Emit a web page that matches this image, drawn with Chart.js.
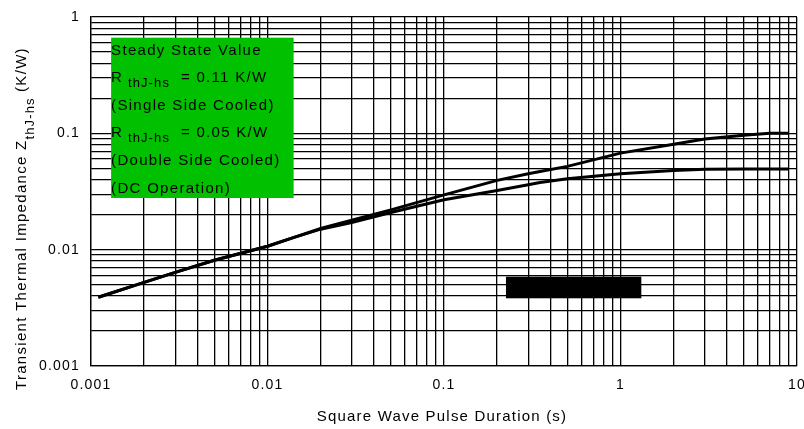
<!DOCTYPE html>
<html>
<head>
<meta charset="utf-8">
<script src="https://cdn.jsdelivr.net/npm/chart.js@4.4.1/dist/chart.umd.min.js"></script>
<style>
  html, body { margin: 0; padding: 0; background: #fff; }
  #wrap { width: 804px; height: 429px; }
</style>
</head>
<body>
<div id="wrap"><canvas id="c" width="804" height="429"></canvas></div>
<script>
// Transient thermal impedance Zth(J-hs) versus square wave pulse duration
const pulseSingle = [0.0011, 0.002, 0.003, 0.005, 0.01, 0.014, 0.02, 0.03, 0.05, 0.1, 0.2, 0.3, 0.35, 0.5, 1, 2, 3, 5, 7, 9];
const zthSingle   = [0.0039, 0.00524, 0.00638, 0.0081, 0.0107, 0.0127, 0.0152, 0.0179, 0.022, 0.0296, 0.0394, 0.0449, 0.047, 0.052, 0.0676, 0.0807, 0.0892, 0.0964, 0.1, 0.1];

const pulseDouble = [0.0011, 0.002, 0.003, 0.005, 0.01, 0.014, 0.02, 0.03, 0.05, 0.1, 0.2, 0.3, 0.35, 0.5, 1, 2, 3, 5, 9];
const zthDouble   = [0.0039, 0.00524, 0.00638, 0.0081, 0.0107, 0.0127, 0.0150, 0.0171, 0.0209, 0.0269, 0.0323, 0.0361, 0.0378, 0.0407, 0.0449, 0.048, 0.049, 0.0493, 0.0493];

// decade tick labels
const xTickValues = [0.001, 0.01, 0.1, 1, 10];
const xTickLabels = ['0.001', '0.01', '0.1', '1', '10'];
const yTickValues = [0.001, 0.01, 0.1, 1];
const yTickLabels = ['0.001', '0.01', '0.1', '1'];

// note box and filled bar, in data units
const noteBoxX = [0.0013, 0.01406];
const noteBoxY = [0.664, 0.0278];
const blackBarX = [0.2244, 1.312];
const blackBarY = [0.00586, 0.00382];

const noteLines = [
  [{ t: 'Steady State Value' }],
  [{ t: 'R' }, { t: ' thJ-hs', sub: true }, { t: '  = 0.11 K/W' }],
  [{ t: '(Single Side Cooled)' }],
  [{ t: 'R' }, { t: ' thJ-hs', sub: true }, { t: '  = 0.05 K/W' }],
  [{ t: '(Double Side Cooled)' }],
  [{ t: '(DC Operation)' }]
];

const FONT = '"Liberation Sans", Arial, sans-serif';

// full 1-2-...-9 log grid per decade
function logGrid(decades, last) {
  const out = [];
  decades.forEach(d => { for (let m = 1; m <= 9; m++) out.push(m * d); });
  out.push(last);
  return out;
}
const xGrid = logGrid([0.001, 0.01, 0.1, 1], 10);
const yGrid = logGrid([0.001, 0.01, 0.1], 1);

function labelFor(v, values, labels) {
  const i = values.findIndex(t => Math.abs(Math.log10(t) - Math.log10(v)) < 1e-9);
  return i >= 0 ? labels[i] : '';
}

function drawRuns(ctx, runs, x, y, size, subSize, subDrop, spacing) {
  let cx = x;
  runs.forEach(r => {
    const s = r.sub ? subSize : size;
    ctx.font = s + 'px ' + FONT;
    ctx.letterSpacing = (r.sub ? spacing * 0.85 : spacing) + 'px';
    ctx.fillText(r.t, cx, y + (r.sub ? subDrop : 0));
    cx += ctx.measureText(r.t).width;
  });
}

const decorPlugin = {
  id: 'decor',
  beforeLayout(chart) { chart.ctx.letterSpacing = '1.2px'; },
  beforeDraw(chart) { chart.ctx.letterSpacing = '1.2px'; },
  beforeDatasetsDraw(chart) {
    const { ctx, scales: { x, y } } = chart;
    ctx.save();
    // note box
    const bx0 = x.getPixelForValue(noteBoxX[0]), bx1 = x.getPixelForValue(noteBoxX[1]);
    const by0 = y.getPixelForValue(noteBoxY[0]), by1 = y.getPixelForValue(noteBoxY[1]);
    ctx.fillStyle = '#00c000';
    ctx.fillRect(bx0, by0, bx1 - bx0, by1 - by0);
    ctx.fillStyle = '#000';
    ctx.textBaseline = 'alphabetic';
    ctx.textAlign = 'left';
    noteLines.forEach((runs, i) => {
      drawRuns(ctx, runs, bx0, by0 + 17 + i * 27.6, 15, 13, 5, 1.3);
    });
    // filled bar
    const kx0 = x.getPixelForValue(blackBarX[0]), kx1 = x.getPixelForValue(blackBarX[1]);
    const ky0 = y.getPixelForValue(blackBarY[0]), ky1 = y.getPixelForValue(blackBarY[1]);
    ctx.fillStyle = '#000';
    ctx.fillRect(kx0, ky0, kx1 - kx0, ky1 - ky0);
    ctx.restore();
  },
  afterDraw(chart) {
    const { ctx, chartArea } = chart;
    ctx.save();
    ctx.fillStyle = '#000';
    ctx.textBaseline = 'alphabetic';
    // x axis title
    ctx.font = '15px ' + FONT;
    ctx.letterSpacing = '1.2px';
    ctx.textAlign = 'center';
    ctx.fillText('Square Wave Pulse Duration (s)', (chartArea.left + chartArea.right) / 2 - 2, 421);
    // y axis title, rotated
    ctx.textAlign = 'left';
    ctx.translate(26, 390);
    ctx.rotate(-Math.PI / 2);
    drawRuns(ctx, [
      { t: 'Transient Thermal Impedance Z' },
      { t: 'thJ-hs', sub: true },
      { t: ' (K/W)' }
    ], 0, 0, 15, 13, 8, 1.3);
    ctx.restore();
  }
};

const axisFont = { family: FONT, size: 14 };

new Chart(document.getElementById('c').getContext('2d'), {
  type: 'line',
  data: {
    datasets: [
      {
        label: 'Single Side Cooled',
        data: pulseSingle.map((v, i) => ({ x: v, y: zthSingle[i] })),
        borderColor: '#000', borderWidth: 3, pointRadius: 0, tension: 0, fill: false
      },
      {
        label: 'Double Side Cooled',
        data: pulseDouble.map((v, i) => ({ x: v, y: zthDouble[i] })),
        borderColor: '#000', borderWidth: 3, pointRadius: 0, tension: 0, fill: false
      }
    ]
  },
  options: {
    responsive: false,
    animation: false,
    events: [],
    layout: { padding: { left: 0, top: 17, right: 7, bottom: 0 } },
    plugins: { legend: { display: false }, tooltip: { enabled: false } },
    scales: {
      x: {
        type: 'logarithmic',
        min: 0.001, max: 10,
        afterBuildTicks: s => { s.ticks = xGrid.map(v => ({ value: v })); },
        afterFit: s => { s.height = 63; s.paddingLeft = 0; s.paddingRight = 0; },
        ticks: {
          autoSkip: false, maxRotation: 0, minRotation: 0, padding: 11,
          color: '#000', font: axisFont,
          callback: v => labelFor(v, xTickValues, xTickLabels)
        },
        grid: { color: '#000', lineWidth: 1.3, drawTicks: false },
        border: { color: '#000', width: 1.3 }
      },
      y: {
        type: 'logarithmic',
        min: 0.001, max: 1,
        afterBuildTicks: s => { s.ticks = yGrid.map(v => ({ value: v })); },
        afterFit: s => { s.width = 91; s.paddingTop = 0; s.paddingBottom = 0; },
        ticks: {
          autoSkip: false, padding: 11,
          color: '#000', font: axisFont,
          callback: v => labelFor(v, yTickValues, yTickLabels)
        },
        grid: { color: '#000', lineWidth: 1.3, drawTicks: false },
        border: { color: '#000', width: 1.3 }
      }
    }
  },
  plugins: [decorPlugin]
});
</script>
</body>
</html>
